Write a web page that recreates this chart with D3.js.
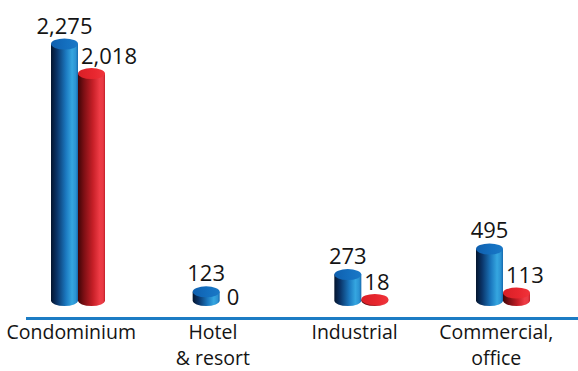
<!DOCTYPE html>
<html>
<head>
<meta charset="utf-8">
<script src="https://cdn.jsdelivr.net/npm/d3@7"></script>
<style>
  html, body { margin: 0; padding: 0; background: #fff; }
  svg { display: block; }
  text { font-family: "Open Sans", "Noto Sans", sans-serif; fill: #141414; }
</style>
</head>
<body>
<svg id="chart" width="578" height="371"></svg>
<script>
// Project counts by property type
const categories = ["Condominium", "Hotel\n& resort", "Industrial", "Commercial,\noffice"];
const seriesNames = ["Blue", "Red"];
const blueValues = [2275, 123, 273, 495];
const redValues = [2018, 0, 18, 113];

const W = 578, H = 371;
const svg = d3.select("#chart");
const defs = svg.append("defs");

// Cylinder shading: dark on the left, bright highlight towards the right
function cylGradient(id, stops) {
  const g = defs.append("linearGradient").attr("id", id)
    .attr("x1", "0%").attr("x2", "100%").attr("y1", "0%").attr("y2", "0%");
  stops.forEach(([o, c]) => g.append("stop").attr("offset", o).attr("stop-color", c));
}
cylGradient("blueBody", [["0%", "#04152e"], ["22%", "#0a3468"], ["55%", "#1b78bf"], ["78%", "#35a6e0"], ["92%", "#2b92d2"], ["100%", "#1569ad"]]);
cylGradient("redBody", [["0%", "#3e0507"], ["22%", "#7c0f14"], ["55%", "#c61f27"], ["80%", "#ee3b45"], ["93%", "#e83a44"], ["100%", "#c21e28"]]);
cylGradient("blueTop", [["0%", "#0f5fae"], ["60%", "#1470c0"], ["100%", "#1a78c6"]]);
cylGradient("redTop", [["0%", "#d81f26"], ["60%", "#e8272f"], ["100%", "#f0343b"]]);

const fills = {
  Blue: { body: "url(#blueBody)", top: "url(#blueTop)" },
  Red: { body: "url(#redBody)", top: "url(#redTop)" }
};

// Scales
const x = d3.scalePoint().domain(categories).range([78, 503]);
const sub = d3.scaleBand().domain(seriesNames).range([-27, 27]).padding(0);
const y = d3.scaleLinear().domain([0, d3.max(blueValues)]).range([306, 44]);

const bw = sub.bandwidth();
const rx = bw / 2, ry = 5.5;
const yBottom = y(0) - ry;

const rows = categories.map((c, i) => ({ cat: c, values: [blueValues[i], redValues[i]] }));

// Baseline
svg.append("line")
  .attr("x1", 26).attr("x2", W)
  .attr("y1", 318.5).attr("y2", 318.5)
  .attr("stroke", "#1c7cc4").attr("stroke-width", 3);

const groups = svg.selectAll("g.cat").data(rows).join("g")
  .attr("class", "cat")
  .attr("transform", d => `translate(${x(d.cat)},0)`);

groups.each(function (row) {
  const g = d3.select(this);
  row.values.forEach((v, si) => {
    const s = seriesNames[si];
    const left = sub(s), right = left + bw, cx = left + rx;
    const yt = Math.min(y(v), yBottom - 1);
    if (v > 0) {
      g.append("path")
        .attr("d", `M${left},${yt} L${left},${yBottom} A${rx},${ry} 0 0 0 ${right},${yBottom} L${right},${yt} Z`)
        .attr("fill", fills[s].body);
      g.append("ellipse")
        .attr("cx", cx).attr("cy", yt).attr("rx", rx).attr("ry", ry)
        .attr("fill", fills[s].top);
    }
    const label = d3.format(",")(v);
    const t = g.append("text")
      .attr("font-size", 22)
      .text(label);
    if (si === 0) {
      t.attr("x", cx).attr("y", yt - ry - 5).attr("text-anchor", "middle");
    } else {
      const w = t.node().getComputedTextLength();
      const lx = Math.max(cx, sub(seriesNames[0]) + bw + w / 2 + 3);
      const ly = v > 0 ? yt - ry - 4 : y(0) - 1;
      t.attr("x", lx).attr("y", ly).attr("text-anchor", "middle");
    }
  });
});

// Category labels under the baseline, one text element per line
const labelX = d => x(d) - bw / 4;
const labelLines = categories.flatMap(c => c.split("\n").map((line, i) => ({ c, line, i })));
svg.selectAll("text.cat").data(labelLines).join("text")
  .attr("class", "cat")
  .attr("text-anchor", "middle")
  .attr("font-size", 19.5)
  .attr("x", d => labelX(d.c))
  .attr("y", d => 339 + d.i * 26)
  .text(d => d.line);
</script>
</body>
</html>
